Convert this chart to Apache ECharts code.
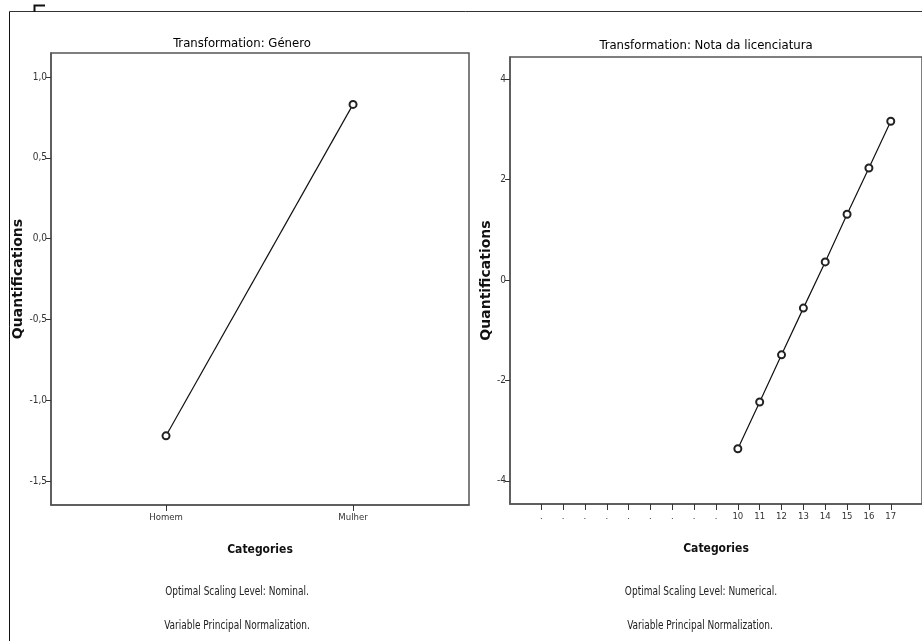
<!DOCTYPE html>
<html>
<head>
<meta charset="utf-8">
<script src="https://cdn.jsdelivr.net/npm/echarts@6/dist/echarts.min.js"></script>
<style>
  html, body { margin: 0; padding: 0; background: #fff; overflow: hidden; }
  #chart { width: 922px; height: 641px; }
</style>
</head>
<body>
<div id="chart"></div>
<script>
// ---- data ----
const genderCategories = ['Homem', 'Mulher'];
const genderQuant = [-1.22, 0.83];
const genderYTicks = [-1.5, -1.0, -0.5, 0.0, 0.5, 1.0];

const gradeCategories = ['.', '.', '.', '.', '.', '.', '.', '.', '.', '10', '11', '12', '13', '14', '15', '16', '17'];
const gradeQuant = [null, null, null, null, null, null, null, null, null, -3.36, -2.43, -1.49, -0.56, 0.36, 1.31, 2.23, 3.16];
const gradeYTicks = [-4, -2, 0, 2, 4];

const titles = ['Transformation: Género', 'Transformation: Nota da licenciatura'];
const footnotes1 = ['Optimal Scaling Level: Nominal.', 'Variable Principal Normalization.'];
const footnotes2 = ['Optimal Scaling Level: Numerical.', 'Variable Principal Normalization.'];

// ---- build ----
const NARROW = '"Liberation Sans Narrow", "DejaVu Sans Condensed", sans-serif';
const WIDE = '"DejaVu Sans", "Liberation Sans", sans-serif';

const genderData = genderCategories.map((c, i) => [i + 1, genderQuant[i]]);
const gradeData = gradeCategories.map((c, i) => [i, gradeQuant[i]]).filter(d => d[1] !== null);

const fmtComma = v => (Math.round(v * 10) / 10).toFixed(1).replace('.', ',');

function yAxisCfg(gridIndex, min, max, ticks, fmt, nameGap) {
  return {
    type: 'value', gridIndex, min, max,
    name: 'Quantifications', nameLocation: 'middle', nameGap,
    nameTextStyle: { fontFamily: WIDE, fontWeight: 'bold', fontSize: 14, color: '#111' },
    axisLine: { show: true, onZero: false, lineStyle: { color: '#555', width: 1.5 } },
    axisTick: { show: true, length: 5, customValues: ticks, lineStyle: { color: '#333' } },
    axisLabel: { customValues: ticks, formatter: fmt, fontFamily: NARROW, fontSize: 10, color: '#333', margin: 4 },
    splitLine: { show: false }
  };
}
function xAxisCfg(gridIndex, min, max, ticks, fmt) {
  return {
    type: 'value', gridIndex, min, max,
    name: 'Categories', nameLocation: 'middle', nameGap: 39,
    nameTextStyle: { fontFamily: NARROW, fontWeight: 'bold', fontSize: 12, color: '#111' },
    axisLine: { show: true, onZero: false, lineStyle: { color: '#555', width: 1.5 } },
    axisTick: { show: true, length: 6, customValues: ticks, lineStyle: { color: '#333' } },
    axisLabel: { customValues: ticks, formatter: fmt, fontFamily: NARROW, fontSize: 9.5, color: '#333', margin: 8 },
    splitLine: { show: false }
  };
}

function foot(text, x, y) {
  return {
    type: 'group', x, y, scaleY: 1.3,
    children: [{
      type: 'text', x: 0, y: 0,
      style: { text, fontFamily: NARROW, fontSize: 10, fill: '#222', align: 'center', verticalAlign: 'middle' }
    }]
  };
}

const option = {
  backgroundColor: '#fff',
  animation: false,
  title: [
    { text: titles[0], left: 237, top: 32, textAlign: 'center',
      textStyle: { fontFamily: NARROW, fontSize: 13, fontWeight: 'normal', color: '#000' } },
    { text: titles[1], left: 701, top: 34, textAlign: 'center',
      textStyle: { fontFamily: NARROW, fontSize: 13, fontWeight: 'normal', color: '#000' } }
  ],
  grid: [
    { left: 51, top: 53, width: 418, height: 452, show: true, borderColor: '#555', borderWidth: 1.5, backgroundColor: '#fff' },
    { left: 510, top: 57, right: -9, height: 447, show: true, borderColor: '#555', borderWidth: 1.5, backgroundColor: '#fff' }
  ],
  xAxis: [
    xAxisCfg(0, 0.385, 2.62, genderCategories.map((c, i) => i + 1), v => genderCategories[Math.round(v) - 1] || ''),
    xAxisCfg(1, -1.43, 17.43, gradeCategories.map((c, i) => i), v => gradeCategories[Math.round(v)] || '')
  ],
  yAxis: [
    yAxisCfg(0, -1.648, 1.148, genderYTicks, fmtComma, 24),
    yAxisCfg(1, -4.46, 4.44, gradeYTicks, v => String(Math.round(v)), 17)
  ],
  series: [
    { type: 'line', xAxisIndex: 0, yAxisIndex: 0, data: genderData,
      symbol: 'emptyCircle', symbolSize: 7,
      lineStyle: { color: '#111', width: 1.2 },
      itemStyle: { color: '#222', borderColor: '#222', borderWidth: 0.8 } },
    { type: 'line', xAxisIndex: 1, yAxisIndex: 1, data: gradeData,
      symbol: 'emptyCircle', symbolSize: 7,
      lineStyle: { color: '#111', width: 1.2 },
      itemStyle: { color: '#222', borderColor: '#222', borderWidth: 0.8 } }
  ],
  graphic: [
    { type: 'line', shape: { x1: 9.5, y1: 11.5, x2: 9.5, y2: 641 }, style: { stroke: '#111', lineWidth: 1 } },
    { type: 'line', shape: { x1: 9.5, y1: 11.5, x2: 922, y2: 11.5 }, style: { stroke: '#333', lineWidth: 1 } },
    { type: 'polyline', shape: { points: [[34.5, 12], [34.5, 5.5], [45, 5.5]] }, style: { stroke: '#111', lineWidth: 2, fill: null } },
    foot(footnotes1[0], 237, 592),
    foot(footnotes1[1], 237, 626),
    foot(footnotes2[0], 701, 592),
    foot(footnotes2[1], 700, 626)
  ]
};

const chart = echarts.init(document.getElementById('chart'), null, { renderer: 'canvas' });
chart.setOption(option);
</script>
</body>
</html>
